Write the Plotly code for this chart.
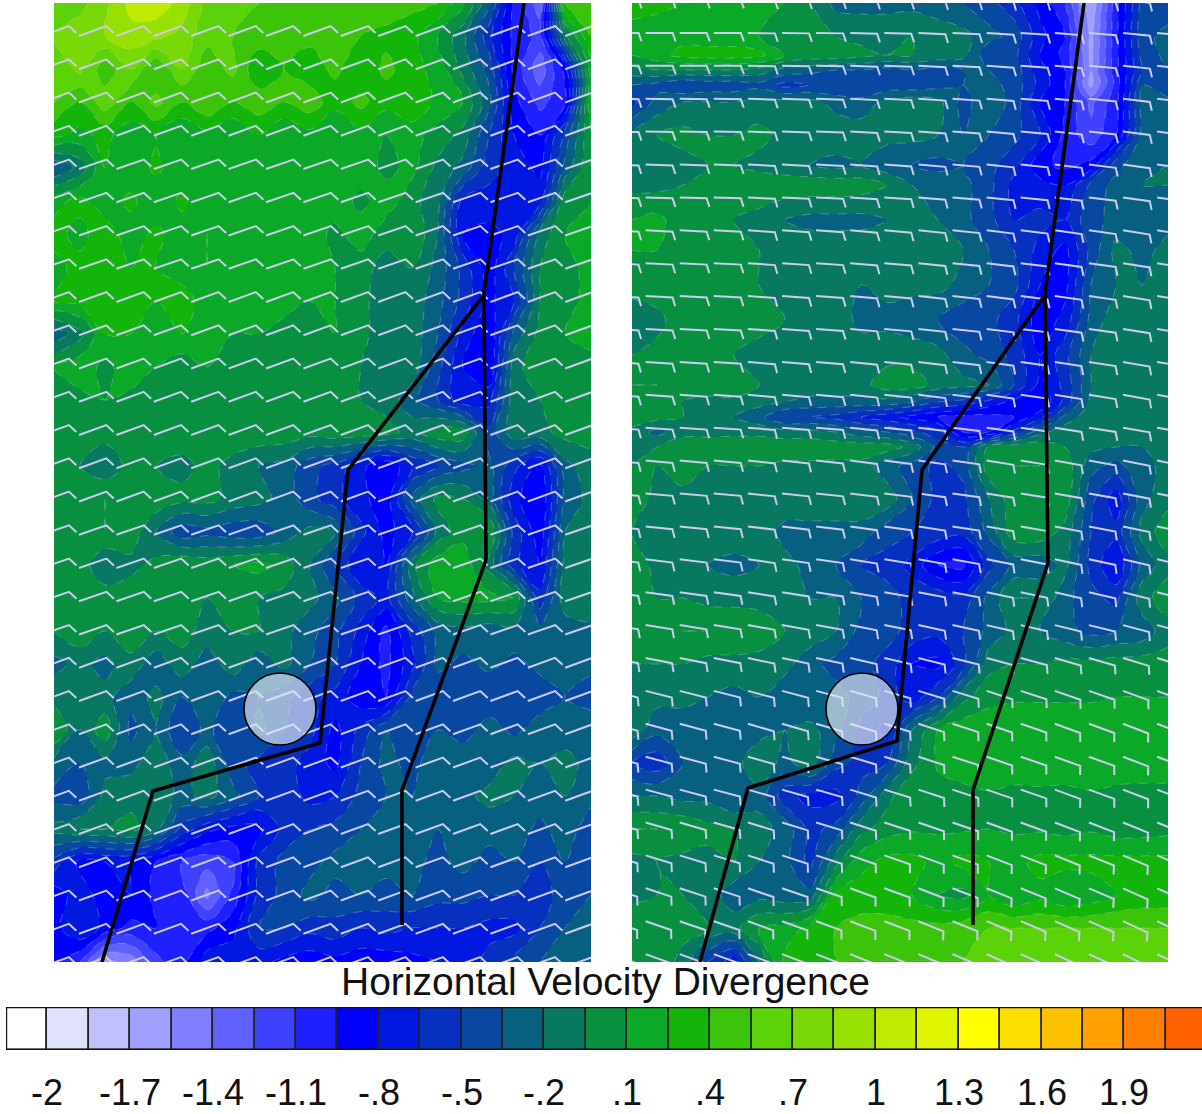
import math
import plotly.graph_objects as go

CB_LABELS = ["-2","-1.7","-1.4","-1.1","-.8","-.5","-.2",".1",".4",".7","1","1.3","1.6","1.9"]
CB_COLORS = ["#FFFFFF","#E0E0FF","#C0C0FF","#A0A0FF","#8080FF","#6060FF","#4040FF","#2020FF","#0000FF",
             "#0018E0","#0830C0","#0848A0","#086080","#087860","#089040","#0CA828","#14B50A","#3CC40A",
             "#5CD208","#78D808","#98E000","#BFEB00","#DFF500","#FFFF00","#FFDF00","#FFC000","#FFA000",
             "#FF8000","#FF6000"]
TITLE = "Horizontal Velocity Divergence"

COLS_L = [0,26,51,77,102,128,153,179,205,230,256,281,307,332,358,384,409,435,460,486,511,537]
ROWS_L = [0,33,66,99,132,165,198,231,265,298,331,364,397,430,463,496,529,562,595,628,661,694,727,760,793,826,859,892,925,959]
DIV_L = [
[.6,.65,.8,1.05,1.1,.95,.65,.6,.55,.5,.5,.45,.45,.5,.45,.4,.15,-.3,-1.0,-1.35,.45,.5],
[.7,.8,.85,.95,.9,.8,.6,.55,.5,.5,.45,.4,.4,.35,.3,.1,-.15,-.6,-1.0,-1.15,-.1,.4],
[.55,.75,.45,.7,.4,.7,.45,.6,.25,.4,.3,.45,.25,.45,.3,.2,-.1,-.4,-1.0,-1.35,-.9,.2],
[.55,.4,.65,.4,.6,.4,.55,.4,.5,.4,.5,.3,.45,.3,.4,.2,.1,-.3,-.9,-1.15,-1.0,.25],
[.3,.2,.3,.15,.25,.1,.2,.1,.25,.1,.2,.1,.2,.1,.15,.05,-.1,-.5,-.8,-.95,-.45,.1],
[-.35,-.15,.25,.1,.3,.1,.25,.1,.2,.15,.25,.1,.2,.05,.15,-.1,-.25,-.6,-.7,-.85,-.3,.1],
[.2,.3,.15,.3,.1,.3,.1,.25,.1,.25,.1,.2,.05,.2,0,-.15,-.7,-.7,-.8,-.7,.05,.1],
[.3,.2,.35,.15,.3,.15,.25,.1,.25,.1,.2,.05,.2,0,.1,-.2,-.8,-.85,-.75,-.15,.1,.2],
[.2,.3,.3,.25,.25,.2,.25,.15,.2,.15,.15,.1,0,-.1,-.05,-.25,-.55,-.9,-.5,-.05,.05,.15],
[.25,.3,.3,.3,.25,.3,.2,.25,.15,.15,.1,.1,0,-.15,-.1,-.3,-.55,-.85,-.65,-.05,.05,.15],
[-.3,-.1,.25,.25,.2,.25,.1,.1,.1,.05,0,.1,0,-.15,-.1,-.35,-.7,-.95,-.3,0,.1,.15],
[.1,.2,.05,.2,.1,0,.1,0,.05,0,.05,0,-.05,-.15,-.1,-.45,-.8,-.95,-.1,.05,.05,.05],
[.05,.05,.1,.05,0,-.05,.05,0,.05,.05,.05,0,-.05,-.1,-.3,-.5,-.75,-.7,-.1,-.05,.05,0],
[0,.05,0,.05,.05,.05,.1,.05,.05,.05,0,.05,.03,0,-.1,.05,.05,-.45,-.1,-.1,0,0],
[-.05,-.05,-.15,0,-.05,-.1,0,-.1,-.2,-.25,-.45,-.55,-.75,-.95,-.65,-.5,-.4,-.3,-.6,-.85,-.25,-.1],
[.05,.05,.1,0,.05,0,0,-.1,-.15,-.25,-.45,-.6,-.75,-.9,-.3,0,-.05,-.25,-.75,-.95,-.3,-.15],
[.05,.05,.1,.05,-.2,-.45,-.4,-.45,-.45,-.3,-.15,-.2,-.6,-.85,-.7,-.15,.05,.1,-.55,-.9,-.2,-.1],
[0,.05,-.2,-.1,0,.1,.05,.1,.15,.05,-.2,-.5,-.8,-.8,-.1,.2,.2,-.1,-.6,-.8,-.15,-.1],
[.05,.1,.05,.05,.05,.05,-.05,-.05,-.05,-.1,-.15,-.3,-.55,-.7,-.25,.1,.15,.15,.1,-.6,-.1,-.05],
[-.05,.05,-.05,.05,-.05,0,-.1,-.05,-.05,-.15,-.3,-.45,-.7,-1.0,-.6,-.3,-.25,-.3,-.25,-.3,-.3,-.25],
[-.25,-.15,-.25,-.1,-.3,-.1,-.3,-.1,-.3,-.15,-.35,-.5,-.8,-1.0,-.7,-.3,-.4,-.3,-.4,-.3,-.35,-.3],
[-.1,-.2,-.15,-.3,-.15,-.35,-.2,-.4,-.35,-.45,-.6,-.7,-.9,-.95,-.45,-.5,-.35,-.5,-.35,-.45,-.35,-.45],
[.1,-.2,.05,-.4,-.2,-.5,-.3,-.5,-.3,-.5,-.6,-.85,-.6,-.35,-.5,-.35,-.45,-.25,-.4,-.25,-.35,-.2],
[-.25,-.35,-.25,-.25,-.1,-.3,-.1,-.45,-.55,-.6,-.7,-.85,-.5,-.3,-.4,-.25,-.2,-.3,-.15,-.2,-.1,-.3],
[-.4,-.45,-.15,-.1,-.1,-.25,-.15,-.3,-.5,-.55,-.7,-.65,-.45,-.35,-.35,-.2,-.25,-.15,-.2,-.25,-.2,-.3],
[-.15,-.05,-.05,0,-.15,-.55,-.75,-.85,-.85,-.6,-.5,-.45,-.35,-.3,-.3,-.35,-.25,-.3,-.25,-.4,-.25,-.45],
[-.55,-.85,-.8,-.8,-.95,-1.1,-1.2,-1.1,-.6,-.45,-.4,-.3,-.3,-.3,-.3,-.4,-.3,-.4,-.35,-.5,-.35,-.45],
[-.9,-.7,-.9,-.8,-1.0,-1.0,-1.45,-1.05,-.6,-.45,-.3,-.4,-.35,-.4,-.35,-.45,-.45,-.5,-.5,-.6,-.4,-.35],
[-.85,-.65,-.85,-1.0,-.95,-1.0,-1.0,-.85,-.5,-.5,-.6,-.55,-.65,-.6,-.65,-.65,-.65,-.7,-.7,-.5,-.35,-.3],
[-.95,-1.1,-1.6,-1.5,-1.15,-1.0,-.7,-.7,-.75,-.85,-.9,-.85,-.9,-.9,-.85,-.8,-.75,-.6,-.45,-.35,-.3,-.25],
]

COLS_R = [0,25,51,76,102,127,153,178,204,229,255,280,306,331,357,382,408,433,459,484,510,536]
ROWS_R = [0,33,52,67,82,99,132,162,182,217,247,282,317,352,382,399,414,429,444,463,496,529,562,595,628,661,694,727,760,793,826,859,892,925,959]
DIV_R = [
[.3,.3,.25,.2,.2,.15,.1,-.05,-.25,-.25,-.25,-.25,-.3,-.35,-.45,-.6,-.85,-1.1,-1.7,-1.0,-.45,-.45],
[.2,.15,.2,.15,.15,.1,.05,0,-.05,-.1,-.1,-.05,-.1,-.15,-.3,-.4,-.75,-.95,-1.6,-1.0,-.4,-.3],
[.1,.2,.3,.33,.33,.3,.1,.05,.05,0,-.05,-.05,-.1,-.15,-.45,-.45,-.8,-1.0,-1.6,-1.0,-.45,-.3],
[-.1,-.05,-.05,-.05,-.05,-.1,-.25,-.3,-.35,-.35,-.4,-.35,-.4,-.35,-.35,-.4,-.75,-.95,-1.55,-1.0,-.5,-.35],
[-.35,-.4,-.5,-.45,-.45,-.4,-.55,-.5,-.5,-.5,-.45,-.45,-.4,-.35,-.3,-.4,-.7,-.95,-1.6,-1.05,-.35,-.5],
[-.55,-.3,-.2,-.2,-.2,-.15,-.15,-.15,-.25,-.3,-.15,-.1,-.15,-.4,-.25,-.4,-.8,-.95,-1.3,-1.0,-.3,-.3],
[-.15,-.05,0,-.05,-.05,0,-.1,-.2,-.1,-.1,-.15,-.15,-.2,-.35,-.35,-.45,-.65,-1.0,-1.2,-.95,-.3,-.25],
[-.05,-.1,-.1,-.05,-.05,-.1,-.15,-.2,-.25,-.2,-.3,-.35,-.4,-.35,-.45,-.6,-.9,-1.0,-.9,-.4,-.25,-.2],
[-.1,-.1,-.05,.05,.05,.05,.05,.05,.05,.03,-.05,-.2,-.25,-.3,-.45,-.7,-.75,-.8,-.45,-.3,-.2,-.2],
[.1,.15,0,-.05,-.05,-.1,-.2,-.25,-.25,-.25,-.2,-.15,-.2,-.3,-.45,-.65,-.6,-.65,-.4,-.3,-.25,-.25],
[.1,.1,.05,.05,0,-.05,-.1,-.1,-.1,-.1,-.1,-.1,-.1,-.2,-.35,-.5,-.7,-.85,-.45,-.15,-.25,-.15],
[.05,.05,.05,.05,0,-.05,-.1,-.1,-.1,-.2,-.15,-.15,-.15,-.25,-.35,-.45,-.8,-.85,-.35,-.2,-.2,-.2],
[-.2,-.1,.05,.05,0,0,-.05,-.1,-.1,-.25,-.25,-.3,-.35,-.45,-.45,-.6,-.9,-.75,-.3,-.1,-.1,-.1],
[-.05,0,0,.05,-.05,-.1,-.1,-.1,-.1,-.1,-.1,-.1,-.15,-.3,-.4,-.55,-.8,-.55,-.2,-.15,-.1,-.1],
[.1,.1,0,.05,.08,-.05,-.1,-.1,-.1,-.1,.03,.03,-.1,-.15,-.2,-.5,-.85,-.6,-.2,-.2,-.2,-.2],
[.05,.05,-.05,-.1,-.1,-.15,-.2,-.25,-.25,-.25,-.25,-.35,-.5,-.55,-.7,-.85,-.95,-.6,-.15,-.1,-.1,-.1],
[.05,0,-.05,-.1,-.2,-.3,-.5,-.5,-.55,-.65,-.75,-.85,-.95,-1.0,-1.0,-.95,-.7,-.3,-.1,-.1,-.1,-.1],
[-.1,-.25,-.1,-.1,-.1,-.1,-.15,-.15,-.2,-.3,-.35,-.45,-.6,-.95,-.95,-.6,-.25,-.1,-.1,-.1,-.1,-.1],
[-.1,-.05,.05,.05,.08,.08,.08,.08,.05,.05,.03,-.1,-.4,-.5,0,.05,.05,-.05,-.15,-.2,-.2,-.1],
[-.05,-.05,.03,-.05,-.05,-.05,-.1,-.1,-.1,-.1,-.3,-.4,-.55,-.45,.05,.1,.1,.05,-.3,-.4,-.25,-.15],
[.05,-.1,-.1,-.1,-.15,-.1,-.1,-.1,-.1,-.1,-.1,-.35,-.55,-.55,-.2,.05,.05,.05,-.45,-.75,-.25,-.1],
[-.05,-.1,-.1,-.15,-.1,-.1,-.25,-.25,-.25,-.25,-.45,-.5,-.55,-.6,-.3,.05,.05,-.1,-.5,-.6,-.15,.05],
[.05,-.1,-.15,-.2,-.25,-.2,-.15,-.25,-.35,-.5,-.55,-.7,-.95,-1.0,-.55,-.3,-.3,-.15,-.55,-.8,-.3,-.1],
[.05,-.05,-.05,-.1,-.1,-.1,-.15,-.2,-.2,-.35,-.45,-.55,-.55,-.6,-.3,-.05,-.05,-.3,-.45,-.55,-.1,.03],
[.05,.05,.1,.1,.08,.03,-.05,-.1,-.2,-.4,-.45,-.55,-.6,-.5,-.3,-.15,-.2,-.3,-.4,-.35,-.3,-.1],
[-.05,-.05,-.05,-.1,-.1,-.1,-.15,-.3,-.4,-.45,-.55,-.8,-.85,-.55,-.1,-.05,-.05,0,0,.03,.03,0],
[-.1,-.15,-.15,-.2,-.25,-.2,-.3,-.35,-.3,-.4,-.55,-.75,-.5,-.1,.05,.08,.08,.08,.08,.1,.1,.1],
[-.1,-.3,-.3,-.25,-.3,-.25,-.2,-.15,-.3,-.55,-.7,-.2,.1,.2,.2,.2,.2,.2,.2,.2,.2,.2],
[-.5,-.6,-.35,-.25,-.25,-.1,-.25,-.1,-.45,-.55,-.5,-.1,.12,.18,.2,.2,.15,.2,.2,.2,.18,.18],
[-.2,-.2,-.25,-.25,-.35,-.25,-.6,-.7,-.7,-.45,-.1,.08,.05,.05,.08,.05,.08,.05,.08,.05,.05,.05],
[.1,.1,.08,0,-.05,-.15,-.25,-.55,-.45,-.1,.03,.08,.08,.08,.1,.08,.08,.05,.08,.03,.03,.05],
[-.1,-.05,-.1,-.1,-.05,-.2,-.3,-.55,-.1,.2,.3,.3,.2,.3,.25,.2,.3,.3,.3,.3,.3,.3],
[-.1,-.05,-.05,-.1,-.3,-.25,-.3,-.3,.3,.33,.33,.25,.1,.05,.25,.1,.2,.1,.15,.25,.3,.3],
[.1,.05,0,-.05,-.1,.1,.15,.3,.4,.45,.45,.45,.45,.5,.55,.55,.55,.55,.55,.55,.55,.55],
[-.05,.05,-.1,-.5,-.75,-.2,.3,.35,.4,.45,.5,.5,.5,.55,.6,.6,.6,.65,.6,.65,.65,.7],
]

TRACK_A_L_X = [470,430,432,348,348]
TRACK_A_L_Y = [0,290,557,787,922]
TRACK_B_L_X = [430,294,266,99,48]
TRACK_B_L_Y = [292,467,740,788,959]
TRACK_A_R_X = [452,413,416,341,341]
TRACK_A_R_Y = [0,290,560,787,922]
TRACK_B_R_X = [413,290,265,116,68]
TRACK_B_R_Y = [292,467,738,785,959]
CIRCLE_L = (226,706)
CIRCLE_R = (230,706)
CIRCLE_RADIUS = 36

BARB_L_TILT = [20,20,20,20,19,19,19,19,20,20,20,20,20,20,20,19,19,19,19,20,20,20,20,20,20,20,20,20,20]
BARB_R_ROW_TILT = [0,0,0,1,1,2,2,3,3,3,3,4,4,4,5,5,6,7,8,9,11,14,15,15,15,16,17,18,19,20]
BARB_R_COL_TILT = [0,0,0,0,1,1,1,2,2,3,3,4,4,5,5,6,6]

W, H = 1202, 1114
def fx(a, b): return [a/W, b/W]
def fy(top, bottom): return [1-bottom/H, 1-top/H]

zmin = -2.15
zstep = .15
n = len(CB_COLORS)
scale = []
for i, c in enumerate(CB_COLORS):
    scale += [[i/n, c], [(i+1)/n, c]]

def barbs_left():
    xs, ys = [], []
    for k, t in enumerate(BARB_L_TILT):
        for i in range(-1, 15):
            x0, y0 = 25+37.4*i, 33+33.25*k
            a = math.radians(t)
            x1, y1 = x0+29*math.cos(a), y0-29*math.sin(a)
            x2, y2 = x1+7.5, y1+7
            xs += [x0, x1, x2, None]
            ys += [y0, y1, y2, None]
    return xs, ys

def barbs_right():
    xs, ys = [], []
    for k, t in enumerate(BARB_R_ROW_TILT):
        for i, ct in enumerate(BARB_R_COL_TILT):
            x0, y0 = 13.6+34.1*(i-1), -3+32.9*k
            a = math.radians(t+ct)
            x1, y1 = x0+27*math.cos(a), y0+27*math.sin(a)
            f = a+math.radians(70)
            x2, y2 = x1+9*math.cos(f), y1+9*math.sin(f)
            xs += [x0, x1, x2, None]
            ys += [y0, y1, y2, None]
    return xs, ys

fig = go.Figure()
panels = [
    ("x","y",COLS_L,ROWS_L,DIV_L,barbs_left(),TRACK_A_L_X,TRACK_A_L_Y,TRACK_B_L_X,TRACK_B_L_Y),
    ("x2","y2",COLS_R,ROWS_R,DIV_R,barbs_right(),TRACK_A_R_X,TRACK_A_R_Y,TRACK_B_R_X,TRACK_B_R_Y),
]
for xa,ya,cols,rows,z,(bx,by),ax_,ay_,bx_,by_ in panels:
    bad = [i for i,r in enumerate(z) if len(r)!=len(cols)]
    assert not bad and len(z)==len(rows), (bad,len(z),len(rows))
    fig.add_trace(go.Contour(x=cols,y=rows,z=z,xaxis=xa,yaxis=ya,colorscale=scale,zmin=zmin,
        zmax=zmin+n*zstep,showscale=False,autocontour=False,
        contours=dict(start=-2.0,end=2.05,size=zstep,coloring="fill",showlines=True),
        line=dict(width=.6,color="rgba(205,215,225,.55)",dash="dash"),hoverinfo="skip"))
    fig.add_trace(go.Scatter(x=bx,y=by,xaxis=xa,yaxis=ya,mode="lines",
        line=dict(color="#CCCCEE",width=2),hoverinfo="skip",showlegend=False))
    fig.add_trace(go.Scatter(x=ax_,y=ay_,xaxis=xa,yaxis=ya,mode="lines",
        line=dict(color="black",width=3.6),hoverinfo="skip",showlegend=False))
    fig.add_trace(go.Scatter(x=bx_,y=by_,xaxis=xa,yaxis=ya,mode="lines",
        line=dict(color="black",width=3.6),hoverinfo="skip",showlegend=False))

shapes = []
for (cx,cy),xr,yr in [(CIRCLE_L,"x","y"),(CIRCLE_R,"x2","y2")]:
    shapes.append(dict(type="circle",xref=xr,yref=yr,x0=cx-CIRCLE_RADIUS,x1=cx+CIRCLE_RADIUS,
        y0=cy-CIRCLE_RADIUS,y1=cy+CIRCLE_RADIUS,fillcolor="rgba(225,232,240,.68)",
        line=dict(color="black",width=1.6),layer="above"))
CELL = 41.42
XMAX = 1196/CELL
shapes.append(dict(type="rect",xref="x3",yref="y3",x0=0,x1=XMAX+1,y0=0,y1=1,
    line=dict(color="#111111",width=2.4),layer="above"))

fig.add_trace(go.Bar(x=[i+.5 for i in range(n)],y=[1]*n,width=1,xaxis="x3",yaxis="y3",
    marker=dict(color=CB_COLORS,line=dict(color="#222222",width=1.6)),hoverinfo="skip",showlegend=False))

annotations = [dict(text=TITLE,xref="paper",yref="paper",x=605/W,y=1-981/H,showarrow=False,
    xanchor="center",yanchor="middle",font=dict(size=39,family="Liberation Sans",color="#111111"))]
for i, lab in enumerate(CB_LABELS):
    annotations.append(dict(text=lab,xref="x3",yref="paper",x=2*i+1,y=1-1092.5/H,showarrow=False,
        xanchor="center",yanchor="middle",borderpad=0,
        font=dict(size=36,family="Liberation Sans",color="#111111")))

noaxis = dict(visible=False,fixedrange=True)
fig.update_layout(width=W,height=H,margin=dict(l=0,r=0,t=0,b=0),paper_bgcolor="white",
    plot_bgcolor="white",shapes=shapes,showlegend=False,bargap=0,
    font=dict(family="Liberation Sans",color="#111111"),
    xaxis=dict(domain=fx(54,591),range=[0,537],anchor="y",**noaxis),
    yaxis=dict(domain=fy(3,962),range=[959,0],anchor="x",**noaxis),
    xaxis2=dict(domain=fx(632,1168),range=[0,536],anchor="y2",**noaxis),
    yaxis2=dict(domain=fy(3,962),range=[959,0],anchor="x2",**noaxis),
    xaxis3=dict(domain=fx(6,1202),range=[0,XMAX],anchor="y3",visible=False,fixedrange=True),
    yaxis3=dict(domain=fy(1007,1050),range=[0,1],anchor="x3",visible=False,fixedrange=True),
    annotations=annotations,
)
fig.write_html("out.html",config=dict(displayModeBar=False),
    post_script="document.body.style.margin='0';document.documentElement.style.overflow='hidden';")
